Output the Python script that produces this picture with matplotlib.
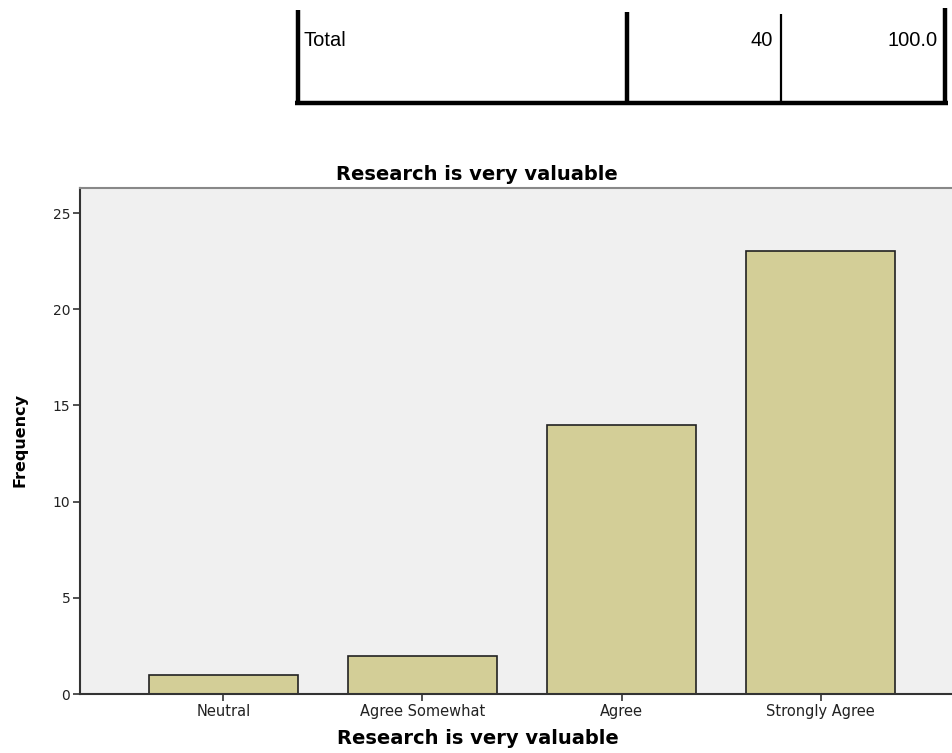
import matplotlib
matplotlib.use("Agg")
import matplotlib.pyplot as plt
from matplotlib.lines import Line2D

categories = ['Neutral', 'Agree Somewhat', 'Agree', 'Strongly Agree']
frequency = [1, 2, 14, 23]
yticks = [0, 5, 10, 15, 20, 25]
total_row = ['Total', '40', '100.0']

W, H = 952, 753
fig = plt.figure(figsize=(W / 100, H / 100), dpi=100)
fig.patch.set_facecolor('white')

# tabla de arriba (solo la fila Total)
def fx(px):
    return px / W

def fy(py):
    return 1 - py / H

def vline(x, y0, y1, lw):
    fig.add_artist(Line2D([fx(x), fx(x)], [fy(y0), fy(y1)], color='black', lw=lw,
                          solid_capstyle='butt'))

vline(298, 10, 105, 3.2)
vline(627, 12, 105, 3.2)
vline(781, 14, 103, 1.6)
vline(945, 8, 105, 3.2)
fig.add_artist(Line2D([fx(295), fx(948)], [fy(103), fy(103)], color='black', lw=3.2,
                      solid_capstyle='butt'))
fig.text(fx(304), fy(40), total_row[0], fontsize=14.5, family='Liberation Sans', va='center')
fig.text(fx(773), fy(40), total_row[1], fontsize=14.5, family='Liberation Sans',
         va='center', ha='right')
fig.text(fx(938), fy(40), total_row[2], fontsize=14.5, family='Liberation Sans',
         va='center', ha='right')

# grafico de barras
ax = fig.add_axes([fx(80), fy(694), fx(952) - fx(80), fy(188) - fy(694)])
ax.set_facecolor('#F0F0F0')
x = range(len(categories))
ax.bar(x, frequency, width=0.75, color='#D3CE97', edgecolor='#222222', linewidth=1.2)
ax.set_xlim(-0.72, 3.66)
ax.set_ylim(0, 26.3)
ax.set_xticks(list(x))
ax.set_xticklabels(categories, fontsize=10.5, color='#222222')
ax.set_yticks(yticks)
ax.set_yticklabels([str(v) for v in yticks], fontsize=10, color='#222222')
ax.tick_params(axis='both', direction='out', length=5, width=1.2, color='#333333', pad=2)
ax.spines['left'].set_color('#333333')
ax.spines['left'].set_linewidth(1.5)
ax.spines['bottom'].set_color('#333333')
ax.spines['bottom'].set_linewidth(1.5)
ax.spines['top'].set_color('#888888')
ax.spines['top'].set_linewidth(1.5)
ax.spines['right'].set_visible(False)

fig.text(fx(477), fy(174), 'Research is very valuable', fontsize=14, fontweight='bold',
         ha='center', va='center')
fig.text(fx(478), fy(738), 'Research is very valuable', fontsize=14, fontweight='bold',
         ha='center', va='center')
fig.text(fx(20), fy(440), 'Frequency', fontsize=11.5, fontweight='bold', rotation=90,
         ha='center', va='center')

fig.savefig('out.png', dpi=100)
